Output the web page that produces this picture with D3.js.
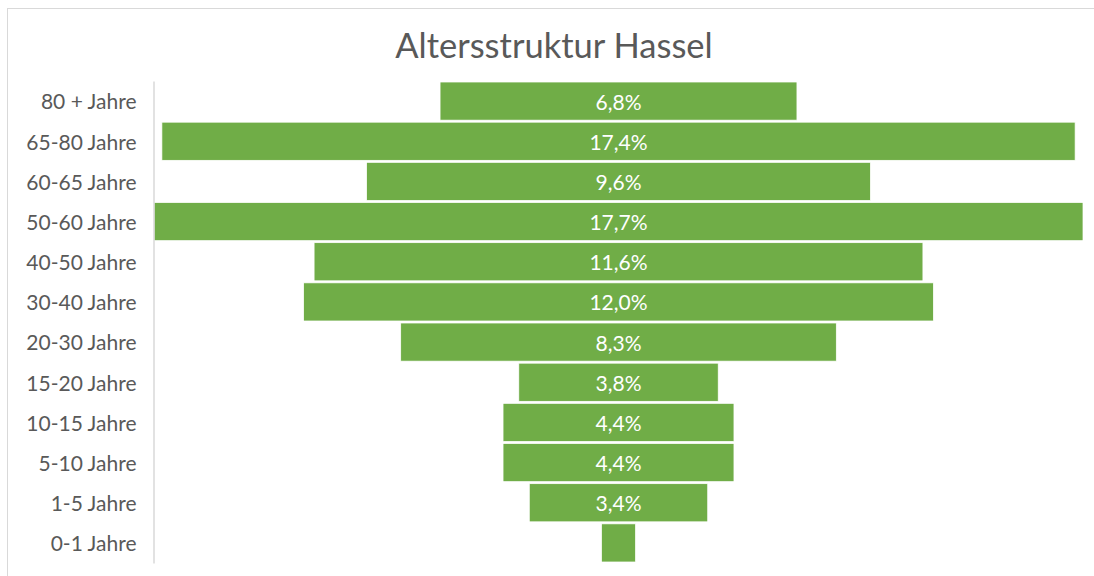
<!DOCTYPE html>
<html>
<head>
<meta charset="utf-8">
<script src="https://cdn.jsdelivr.net/npm/d3@7"></script>
<style>
  html, body { margin: 0; padding: 0; background: #fff; }
  svg { display: block; font-family: Lato, "Open Sans", sans-serif; }
</style>
</head>
<body>
<svg id="chart" width="1094" height="576"></svg>
<script>
const title = "Altersstruktur Hassel";
const categories = ["80 + Jahre", "65-80 Jahre", "60-65 Jahre", "50-60 Jahre", "40-50 Jahre", "30-40 Jahre",
                    "20-30 Jahre", "15-20 Jahre", "10-15 Jahre", "5-10 Jahre", "1-5 Jahre", "0-1 Jahre"];
const values = [6.8, 17.4, 9.6, 17.7, 11.6, 12.0, 8.3, 3.8, 4.4, 4.4, 3.4, 0.65];
const showLabel = [true, true, true, true, true, true, true, true, true, true, true, false];

const W = 1094, H = 576;
const svg = d3.select("#chart");

const locale = d3.formatLocale({decimal: ",", thousands: ".", grouping: [3], currency: ["", " €"]});
const fmt = locale.format(".1f");

// frame
svg.append("rect")
  .attr("x", 7.5).attr("y", 8.5)
  .attr("width", W + 20).attr("height", H + 20)
  .attr("fill", "none").attr("stroke", "#d9d9d9").attr("stroke-width", 1);

// title
svg.append("text")
  .attr("x", 554).attr("y", 58)
  .attr("text-anchor", "middle")
  .attr("fill", "#595959")
  .attr("font-size", 34.5)
  .text(title);

const maxV = d3.max(values);
const plotL = 154, plotR = 1083;
const x = d3.scaleLinear().domain([-maxV / 2, maxV / 2]).range([plotL, plotR]);
const y = d3.scaleBand().domain(categories).range([81, 563]).paddingInner(0.05).paddingOuter(0.025);

// bars
const g = svg.append("g");
g.selectAll("rect.bar")
  .data(values)
  .join("rect")
  .attr("class", "bar")
  .attr("x", d => x(-d / 2))
  .attr("width", d => x(d / 2) - x(-d / 2))
  .attr("y", (d, i) => y(categories[i]))
  .attr("height", y.bandwidth())
  .attr("fill", "#70ad47")
  .attr("stroke", "#ffffff")
  .attr("stroke-width", 0.75);

// data labels
g.selectAll("text.lbl")
  .data(values.map((v, i) => ({v, c: categories[i], show: showLabel[i]})).filter(d => d.show))
  .join("text")
  .attr("class", "lbl")
  .attr("x", x(0))
  .attr("y", d => y(d.c) + y.bandwidth() / 2 + 1)
  .attr("dy", "0.36em")
  .attr("text-anchor", "middle")
  .attr("fill", "#ffffff")
  .attr("font-size", 21)
  .text(d => fmt(d.v) + "%");

// category axis
const axis = d3.axisLeft(y).tickSize(0).tickPadding(17);
const ag = svg.append("g").attr("transform", `translate(${153.5},0)`).call(axis);
ag.select(".domain").attr("stroke", "#d9d9d9").attr("stroke-width", 1.5);
ag.selectAll("text")
  .attr("fill", "#595959")
  .attr("font-size", 21)
  .attr("dy", "0.4em")
  .attr("font-family", "Lato, 'Open Sans', sans-serif");
</script>
</body>
</html>
